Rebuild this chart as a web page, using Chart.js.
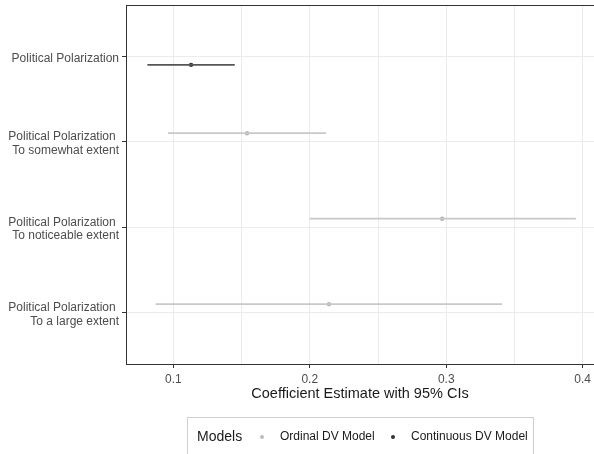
<!DOCTYPE html>
<html>
<head>
<meta charset="utf-8">
<script src="https://cdn.jsdelivr.net/npm/chart.js@4"></script>
<style>
    body { margin: 0; background: #fff; }
    #wrap { position: relative; width: 594px; height: 454px; overflow: hidden; }
    #chart { display: block; }
    #legend { position: absolute; left: 187px; top: 417px; width: 347px; height: 50px; border: 1px solid #cfcfcf; box-sizing: border-box; font-family: 'Liberation Sans', Arial, sans-serif; }
    #legend span { position: absolute; white-space: nowrap; }
    .lg-title { font-size: 14px; color: #1a1a1a; top: 10px; }
    .lg-item { font-size: 12px; color: #1a1a1a; top: 11px; }
    .lg-dot { width: 4px; height: 4px; border-radius: 50%; top: 17px; }
</style>
</head>
<body>
<div id="wrap">
    <canvas id="chart" width="598" height="454"></canvas>
    <div id="legend">
        <span class="lg-title" style="left: 9px;">Models</span>
        <span class="lg-dot" style="left: 72px; background: #bcbcbc;"></span>
        <span class="lg-item" style="left: 92px;">Ordinal DV Model</span>
        <span class="lg-dot" style="left: 203px; background: #333;"></span>
        <span class="lg-item" style="left: 223px;">Continuous DV Model</span>
    </div>
</div>
<script>
const categories = [
    'Political Polarization',
    ['Political Polarization ', 'To somewhat extent'],
    ['Political Polarization ', 'To noticeable extent'],
    ['Political Polarization ', 'To a large extent']
];
const ordinalEst = [null, 0.154, 0.297, 0.214];
const ordinalLow = [null, 0.096, 0.200, 0.087];
const ordinalHigh = [null, 0.212, 0.395, 0.341];
const continuousEst = [0.113, null, null, null];
const continuousLow = [0.081, null, null, null];
const continuousHigh = [0.145, null, null, null];
const xMajorTicks = [0.1, 0.2, 0.3, 0.4];
const xMinorTicks = [0.15, 0.25, 0.35];

const dodge = 0.1;
const ordinalColor = '#c8c8c8';
const ordinalPoint = '#b4b4b4';
const continuousColor = '#555555';
const continuousPoint = '#333333';
const fontFamily = "'Liberation Sans', Arial, sans-serif";

const datasets = [];
const addModel = (est, low, high, offset, lineColor, pointColor) => {
    const points = [];
    est.forEach((v, i) => {
        if (v === null) return;
        const y = i + offset;
        datasets.push({
            type: 'line',
            data: [{ x: low[i], y: y }, { x: high[i], y: y }],
            borderColor: lineColor,
            borderWidth: 1.7,
            pointRadius: 0,
            fill: false
        });
        points.push({ x: v, y: y });
    });
    datasets.push({
        type: 'scatter',
        data: points,
        pointRadius: 2.2,
        pointBackgroundColor: pointColor,
        pointBorderWidth: 0
    });
};
addModel(ordinalEst, ordinalLow, ordinalHigh, -dodge, ordinalColor, ordinalPoint);
addModel(continuousEst, continuousLow, continuousHigh, dodge, continuousColor, continuousPoint);

const topBorder = {
    id: 'topBorder',
    afterDraw(chart) {
        const { ctx, chartArea } = chart;
        ctx.save();
        ctx.strokeStyle = '#333';
        ctx.lineWidth = 1;
        ctx.beginPath();
        ctx.moveTo(chartArea.left, chartArea.top + 0.5);
        ctx.lineTo(chartArea.right, chartArea.top + 0.5);
        ctx.stroke();
        ctx.restore();
    }
};

const isMajor = v => xMajorTicks.some(t => Math.abs(t - v) < 1e-9);
const noPadding = scale => {
    scale.paddingTop = 0;
    scale.paddingBottom = 0;
    scale.paddingLeft = 0;
    scale.paddingRight = 0;
};

new Chart(document.getElementById('chart'), {
    type: 'scatter',
    data: { datasets: datasets },
    plugins: [topBorder],
    options: {
        responsive: false,
        animation: false,
        layout: { padding: { top: 5, left: 0, right: 0, bottom: 0 } },
        plugins: {
            legend: { display: false },
            tooltip: { enabled: false }
        },
        scales: {
            x: {
                type: 'linear',
                min: 0.0653,
                max: 0.4083,
                afterBuildTicks: scale => {
                    scale.ticks = xMajorTicks.concat(xMinorTicks).sort().map(v => ({ value: v }));
                },
                afterFit: scale => { scale.height = 90; noPadding(scale); },
                border: { display: true, color: '#333', width: 1 },
                grid: {
                    color: '#ebebeb',
                    lineWidth: 1,
                    tickLength: 4,
                    tickColor: ctx => isMajor(ctx.tick.value) ? '#333' : 'rgba(0,0,0,0)'
                },
                ticks: {
                    padding: 4,
                    maxRotation: 0,
                    autoSkip: false,
                    color: '#4d4d4d',
                    font: { family: fontFamily, size: 12 },
                    callback: v => isMajor(v) ? String(Math.round(v * 10) / 10) : ''
                },
                title: {
                    display: true,
                    text: 'Coefficient Estimate with 95% CIs',
                    color: '#1a1a1a',
                    font: { family: fontFamily, size: 14.5 },
                    padding: { top: 0, bottom: 51 }
                }
            },
            y: {
                type: 'linear',
                min: -0.6,
                max: 3.6,
                reverse: true,
                afterBuildTicks: scale => {
                    scale.ticks = categories.map((c, i) => ({ value: i }));
                },
                afterFit: scale => { scale.width = 126; noPadding(scale); },
                border: { display: true, color: '#333', width: 1 },
                grid: {
                    color: '#ebebeb',
                    lineWidth: 1,
                    tickLength: 4,
                    tickColor: '#333'
                },
                ticks: {
                    padding: 3,
                    labelOffset: 2,
                    autoSkip: false,
                    color: '#4d4d4d',
                    font: { family: fontFamily, size: 12, lineHeight: 1.1 },
                    callback: v => categories[v]
                }
            }
        }
    }
});
</script>
</body>
</html>
